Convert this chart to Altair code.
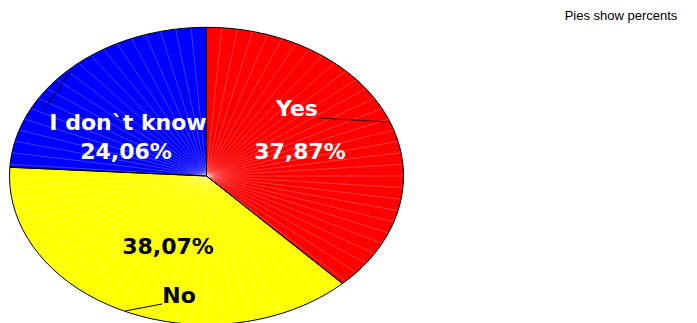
import altair as alt
import pandas as pd

# ---- data ----
labels = ["Yes", "No", "I don`t know"]
values = [37.87, 38.07, 24.06]
colors = ["#ff0000", "#ffff00", "#0000ff"]
note = "Pies show percents"

df = pd.DataFrame({"label": labels, "value": values, "order": list(range(len(labels)))})

W, H = 697, 323
xs = alt.Scale(domain=[-1.0482, 2.4898], nice=False, zero=False)
ys = alt.Scale(domain=[-0.9886, 1.1836], nice=False, zero=False)
fill_scale = alt.Scale(domain=labels, range=colors)
N_RAYS = 80

base = (
    alt.Chart(df)
    .transform_window(cum="sum(value)", sort=[alt.SortField("order")], frame=[None, 0])
    .transform_joinaggregate(total="sum(value)")
    .transform_calculate(
        a1="datum.cum / datum.total",
        a0="(datum.cum - datum.value) / datum.total",
        pct="replace(format(datum.value, '.2f'), '.', ',') + '%'",
    )
)

poly = (
    base.transform_calculate(n="ceil((datum.a1 - datum.a0) * 100)")
    .transform_calculate(idx="sequence(-1, datum.n + 2)")
    .transform_flatten(["idx"])
    .transform_calculate(
        r="(datum.idx < 0 || datum.idx > datum.n) ? 0 : 1",
        t="2 * PI * (datum.a0 + (datum.a1 - datum.a0) * clamp(datum.idx, 0, datum.n) / datum.n)",
    )
    .transform_calculate(px="datum.r * sin(datum.t)", py="datum.r * cos(datum.t)")
)

fills = poly.mark_line(strokeWidth=0, interpolate="linear").encode(
    x=alt.X("px:Q", scale=xs, axis=None),
    y=alt.Y("py:Q", scale=ys, axis=None),
    order="idx:Q",
    detail="label:N",
    fill=alt.Fill("label:N", scale=fill_scale, legend=None),
)

outline = poly.mark_line(stroke="black", strokeWidth=1, interpolate="linear").encode(
    x=alt.X("px:Q", scale=xs, axis=None),
    y=alt.Y("py:Q", scale=ys, axis=None),
    order="idx:Q",
    detail="label:N",
)

rays = (
    alt.Chart(alt.sequence(0, N_RAYS, 1, as_="i"))
    .transform_calculate(
        ex=f"sin(2 * PI * datum.i / {N_RAYS})",
        ey=f"cos(2 * PI * datum.i / {N_RAYS})",
        c0="0",
    )
    .mark_rule(color="white", opacity=0.4, strokeWidth=0.6)
    .encode(
        x=alt.X("c0:Q", scale=xs, axis=None),
        y=alt.Y("c0:Q", scale=ys, axis=None),
        x2="ex:Q",
        y2="ey:Q",
    )
)

def label_layer(name, field, px, py, color):
    return (
        base.transform_filter(alt.datum.label == name)
        .mark_text(font="DejaVu Sans", fontWeight="bold", fontSize=22, color=color,
                   align="center", baseline="middle")
        .encode(x=alt.value(px), y=alt.value(py), text=f"{field}:N")
    )

texts = [
    label_layer("Yes", "label", 297, 109, "white"),
    label_layer("Yes", "pct", 300, 152, "white"),
    label_layer("I don`t know", "label", 128, 123, "white"),
    label_layer("I don`t know", "pct", 126, 152, "white"),
    label_layer("No", "pct", 168, 247, "black"),
    label_layer("No", "label", 179, 296, "black"),
]

def leader(x1, y1, x2, y2, color="black"):
    return alt.Chart(df.head(1)).mark_rule(color=color, strokeWidth=1).encode(
        x=alt.value(x1), y=alt.value(y1), x2=alt.value(x2), y2=alt.value(y2)
    )

leaders = [
    leader(318, 118, 388, 122, "#300000"),
    leader(44, 109, 70, 72),
    leader(162, 304, 125, 311),
]

note_layer = alt.Chart(pd.DataFrame({"t": [note]})).mark_text(
    font="Liberation Sans", fontSize=13, color="black", align="center", baseline="middle"
).encode(x=alt.value(621), y=alt.value(16), text="t:N")

chart = (
    alt.layer(fills, rays, outline, *leaders, *texts, note_layer)
    .properties(width=W, height=H, autosize="none", padding=0, background="white")
    .configure_view(stroke=None)
)

chart.save("out.html", embed_options={"renderer": "svg", "actions": False})
